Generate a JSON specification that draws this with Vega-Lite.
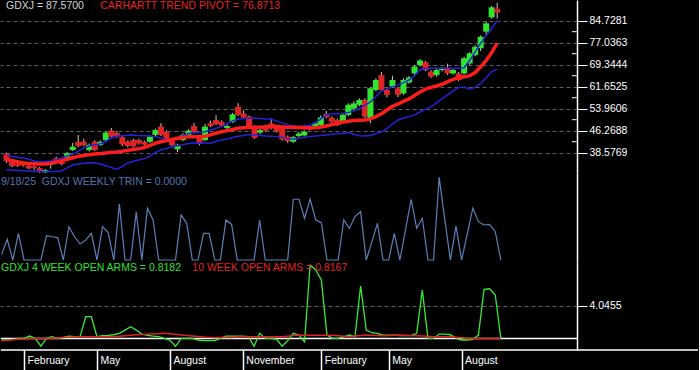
{
"$schema": "https://vega.github.io/schema/vega-lite/v6.json",
"background": "black",
"padding": 0,
"spacing": 0,
"bounds": "flush",
"config": {"view": {"stroke": null}, "font": "Liberation Sans", "axis": {"labelFont": "Liberation Sans"}},
"datasets": {"w": [
{"d":"2024-01-05","o":38.2,"h":38.6,"l":35.0,"c":35.6,"p":36.2,"u":37.7,"lo":32.6,"t":0.2,"a4":0.66,"a10":0.59},
{"d":"2024-01-12","o":35.6,"h":35.9,"l":33.5,"c":33.9,"p":35.8,"u":37.3,"lo":32.5,"t":0.74,"a4":0.66,"a10":0.64},
{"d":"2024-01-19","o":34.8,"h":35.3,"l":33.6,"c":34.0,"p":35.4,"u":37.0,"lo":32.4,"t":0,"a4":0.72,"a10":0.69},
{"d":"2024-01-26","o":34.6,"h":35.0,"l":33.7,"c":34.1,"p":35.0,"u":36.7,"lo":32.3,"t":0.95,"a4":0.82,"a10":0.73},
{"d":"2024-02-02","o":34.0,"h":34.4,"l":32.8,"c":33.1,"p":34.8,"u":36.3,"lo":32.2,"t":0,"a4":0.82,"a10":0.76},
{"d":"2024-02-09","o":33.8,"h":34.2,"l":32.6,"c":33.2,"p":34.7,"u":35.7,"lo":32.1,"t":0,"a4":1.05,"a10":0.8},
{"d":"2024-02-16","o":33.2,"h":33.6,"l":31.5,"c":31.9,"p":34.6,"u":35.4,"lo":32.0,"t":0,"a4":0.82,"a10":0.82},
{"d":"2024-02-23","o":31.7,"h":32.9,"l":31.2,"c":32.5,"p":34.6,"u":35.5,"lo":32.0,"t":0,"a4":0.05,"a10":0.82},
{"d":"2024-03-01","o":34.3,"h":35.5,"l":33.0,"c":35.1,"p":34.9,"u":35.7,"lo":32.0,"t":0.87,"a4":0.82,"a10":0.82},
{"d":"2024-03-08","o":36.6,"h":37.2,"l":34.8,"c":35.3,"p":35.3,"u":36.0,"lo":32.0,"t":0.83,"a4":0.99,"a10":0.84},
{"d":"2024-03-15","o":36.0,"h":36.6,"l":34.2,"c":34.6,"p":35.8,"u":36.7,"lo":32.2,"t":0.8,"a4":0.82,"a10":0.87},
{"d":"2024-03-22","o":36.6,"h":38.8,"l":36.2,"c":38.4,"p":36.3,"u":37.4,"lo":33.3,"t":0,"a4":0.92,"a10":0.9},
{"d":"2024-03-29","o":39.5,"h":42.0,"l":39.2,"c":40.7,"p":36.8,"u":38.0,"lo":34.3,"t":1.19,"a4":1.05,"a10":0.93},
{"d":"2024-04-05","o":42.4,"h":44.8,"l":40.5,"c":40.9,"p":37.3,"u":39.1,"lo":34.6,"t":0.83,"a4":0.99,"a10":0.95},
{"d":"2024-04-12","o":42.4,"h":43.5,"l":40.8,"c":41.2,"p":37.6,"u":40.2,"lo":34.9,"t":0.57,"a4":0.99,"a10":0.98},
{"d":"2024-04-19","o":39.5,"h":41.8,"l":39.0,"c":41.3,"p":37.9,"u":40.9,"lo":35.1,"t":0.71,"a4":2.96,"a10":0.99},
{"d":"2024-04-26","o":42.4,"h":42.9,"l":39.1,"c":39.5,"p":38.1,"u":41.3,"lo":35.0,"t":0.95,"a4":2.96,"a10":0.99},
{"d":"2024-05-03","o":41.3,"h":42.9,"l":40.9,"c":42.4,"p":38.3,"u":41.7,"lo":34.6,"t":0,"a4":0.99,"a10":0.99},
{"d":"2024-05-10","o":43.0,"h":46.0,"l":42.6,"c":45.6,"p":38.5,"u":42.5,"lo":34.0,"t":1.19,"a4":1.09,"a10":0.99},
{"d":"2024-05-17","o":46.3,"h":47.2,"l":43.8,"c":44.2,"p":38.7,"u":43.7,"lo":33.4,"t":0.98,"a4":1.12,"a10":0.99},
{"d":"2024-05-24","o":45.5,"h":46.2,"l":43.8,"c":44.2,"p":38.8,"u":44.3,"lo":32.7,"t":0,"a4":1.18,"a10":0.99},
{"d":"2024-05-31","o":44.0,"h":44.6,"l":40.9,"c":41.5,"p":39.1,"u":44.5,"lo":33.8,"t":2.0,"a4":1.32,"a10":1.03},
{"d":"2024-06-07","o":42.4,"h":42.9,"l":40.4,"c":40.9,"p":39.4,"u":44.7,"lo":35.0,"t":0,"a4":1.64,"a10":1.08},
{"d":"2024-06-14","o":43.0,"h":43.4,"l":40.4,"c":40.8,"p":39.7,"u":44.8,"lo":35.6,"t":0,"a4":1.97,"a10":1.14},
{"d":"2024-06-21","o":43.0,"h":43.5,"l":41.4,"c":41.8,"p":40.0,"u":44.6,"lo":36.0,"t":1.71,"a4":1.64,"a10":1.17},
{"d":"2024-06-28","o":42.4,"h":42.8,"l":41.0,"c":41.4,"p":40.4,"u":44.5,"lo":36.5,"t":0,"a4":1.25,"a10":1.2},
{"d":"2024-07-05","o":42.4,"h":44.6,"l":42.0,"c":44.2,"p":41.1,"u":44.4,"lo":37.4,"t":1.85,"a4":1.12,"a10":1.24},
{"d":"2024-07-12","o":44.8,"h":47.0,"l":44.4,"c":46.5,"p":41.9,"u":44.2,"lo":38.7,"t":1.43,"a4":1.05,"a10":1.27},
{"d":"2024-07-19","o":47.7,"h":48.9,"l":44.4,"c":44.8,"p":42.4,"u":43.7,"lo":39.5,"t":0,"a4":0.99,"a10":1.29},
{"d":"2024-07-26","o":45.9,"h":46.4,"l":42.6,"c":43.0,"p":42.8,"u":43.3,"lo":40.1,"t":0,"a4":0.82,"a10":1.32},
{"d":"2024-08-02","o":43.0,"h":43.4,"l":40.8,"c":41.2,"p":43.2,"u":43.0,"lo":40.6,"t":0,"a4":0.66,"a10":1.28},
{"d":"2024-08-09","o":39.8,"h":41.7,"l":38.8,"c":41.3,"p":43.6,"u":43.7,"lo":41.0,"t":0,"a4":0.02,"a10":1.22},
{"d":"2024-08-16","o":43.0,"h":45.4,"l":42.6,"c":44.8,"p":43.9,"u":44.5,"lo":41.4,"t":1.61,"a4":0.82,"a10":1.16},
{"d":"2024-08-23","o":44.8,"h":46.8,"l":44.4,"c":46.3,"p":44.2,"u":45.3,"lo":41.8,"t":1.31,"a4":0.82,"a10":1.11},
{"d":"2024-08-30","o":47.9,"h":49.0,"l":45.5,"c":45.9,"p":44.2,"u":45.5,"lo":42.0,"t":0,"a4":0.82,"a10":1.05},
{"d":"2024-09-06","o":44.2,"h":44.6,"l":41.2,"c":41.6,"p":44.2,"u":45.7,"lo":42.1,"t":0,"a4":0.66,"a10":1.0},
{"d":"2024-09-13","o":43.0,"h":48.6,"l":42.6,"c":47.7,"p":44.3,"u":45.9,"lo":42.0,"t":0.95,"a4":0.59,"a10":0.96},
{"d":"2024-09-20","o":48.9,"h":49.8,"l":47.5,"c":47.9,"p":44.8,"u":46.5,"lo":41.9,"t":0.95,"a4":0.59,"a10":0.92},
{"d":"2024-09-27","o":50.0,"h":51.7,"l":48.2,"c":48.6,"p":45.4,"u":47.1,"lo":42.6,"t":0,"a4":0.59,"a10":0.89},
{"d":"2024-10-04","o":49.4,"h":49.9,"l":47.6,"c":48.0,"p":45.9,"u":47.7,"lo":43.0,"t":0,"a4":0.82,"a10":0.9},
{"d":"2024-10-11","o":47.2,"h":48.4,"l":46.8,"c":47.9,"p":46.3,"u":48.7,"lo":43.4,"t":1.43,"a4":1.05,"a10":0.91},
{"d":"2024-10-18","o":49.4,"h":52.5,"l":49.0,"c":52.0,"p":46.7,"u":49.7,"lo":43.9,"t":1.27,"a4":1.05,"a10":0.92},
{"d":"2024-10-25","o":54.7,"h":55.9,"l":51.4,"c":51.8,"p":47.1,"u":50.3,"lo":44.3,"t":0,"a4":1.05,"a10":0.95},
{"d":"2024-11-01","o":52.3,"h":53.4,"l":50.5,"c":50.9,"p":47.3,"u":50.5,"lo":44.6,"t":0,"a4":1.05,"a10":0.97},
{"d":"2024-11-08","o":51.2,"h":51.6,"l":47.5,"c":47.9,"p":47.4,"u":50.6,"lo":44.9,"t":0,"a4":0.99,"a10":0.99},
{"d":"2024-11-15","o":47.7,"h":48.1,"l":43.4,"c":43.8,"p":47.5,"u":50.6,"lo":44.8,"t":0,"a4":0.03,"a10":0.99},
{"d":"2024-11-22","o":45.6,"h":47.0,"l":45.0,"c":46.5,"p":47.5,"u":50.5,"lo":44.6,"t":1.43,"a4":1.32,"a10":0.99},
{"d":"2024-11-29","o":47.9,"h":48.3,"l":45.9,"c":46.3,"p":47.6,"u":50.4,"lo":44.4,"t":0,"a4":0.82,"a10":0.99},
{"d":"2024-12-06","o":48.8,"h":50.6,"l":46.7,"c":47.1,"p":47.7,"u":50.3,"lo":44.3,"t":0,"a4":0.82,"a10":0.99},
{"d":"2024-12-13","o":47.9,"h":48.3,"l":45.6,"c":46.0,"p":47.7,"u":49.7,"lo":44.2,"t":0,"a4":0.76,"a10":0.99},
{"d":"2024-12-20","o":47.1,"h":47.5,"l":42.8,"c":43.2,"p":47.6,"u":49.0,"lo":44.0,"t":0,"a4":0.05,"a10":0.99},
{"d":"2024-12-27","o":44.2,"h":44.6,"l":42.0,"c":42.6,"p":47.5,"u":48.4,"lo":43.5,"t":0,"a4":0.6,"a10":1.04},
{"d":"2025-01-03","o":42.4,"h":44.4,"l":42.0,"c":44.0,"p":47.5,"u":47.9,"lo":43.3,"t":2.17,"a4":1.32,"a10":1.1},
{"d":"2025-01-10","o":44.4,"h":45.8,"l":44.0,"c":45.3,"p":47.4,"u":47.7,"lo":43.6,"t":2.17,"a4":1.15,"a10":1.15},
{"d":"2025-01-17","o":44.6,"h":46.4,"l":44.2,"c":45.9,"p":47.3,"u":47.9,"lo":44.0,"t":1.49,"a4":0.49,"a10":1.14},
{"d":"2025-01-24","o":46.8,"h":48.2,"l":46.4,"c":47.7,"p":47.2,"u":48.2,"lo":44.2,"t":2.17,"a4":8.06,"a10":1.13},
{"d":"2025-01-31","o":47.8,"h":49.4,"l":47.4,"c":48.9,"p":47.3,"u":49.0,"lo":44.4,"t":1.43,"a4":7.57,"a10":1.12},
{"d":"2025-02-07","o":48.3,"h":51.6,"l":47.9,"c":50.9,"p":47.6,"u":50.4,"lo":44.6,"t":1.33,"a4":6.58,"a10":1.12},
{"d":"2025-02-14","o":52.1,"h":53.2,"l":50.6,"c":51.0,"p":47.9,"u":51.8,"lo":44.8,"t":0,"a4":1.15,"a10":1.12},
{"d":"2025-02-21","o":50.8,"h":51.3,"l":49.0,"c":49.4,"p":48.4,"u":52.2,"lo":45.0,"t":0,"a4":0.82,"a10":1.12},
{"d":"2025-02-28","o":50.0,"h":50.5,"l":47.9,"c":48.3,"p":48.8,"u":52.2,"lo":45.2,"t":0,"a4":0.82,"a10":1.08},
{"d":"2025-03-07","o":49.4,"h":52.3,"l":49.0,"c":51.8,"p":49.3,"u":52.3,"lo":45.4,"t":1.43,"a4":0.99,"a10":1.03},
{"d":"2025-03-14","o":51.8,"h":55.8,"l":51.4,"c":55.3,"p":49.6,"u":52.6,"lo":45.6,"t":1.13,"a4":1.15,"a10":0.99},
{"d":"2025-03-21","o":54.0,"h":56.6,"l":53.4,"c":55.8,"p":49.8,"u":53.2,"lo":45.0,"t":1.55,"a4":1.0,"a10":1.05},
{"d":"2025-03-28","o":55.3,"h":57.6,"l":54.8,"c":57.0,"p":49.9,"u":54.0,"lo":44.5,"t":1.73,"a4":5.99,"a10":1.1},
{"d":"2025-04-04","o":57.0,"h":57.6,"l":50.6,"c":51.2,"p":50.0,"u":55.2,"lo":44.4,"t":0,"a4":1.64,"a10":1.15},
{"d":"2025-04-11","o":50.6,"h":61.6,"l":48.9,"c":61.1,"p":50.4,"u":56.3,"lo":44.6,"t":0.65,"a4":1.38,"a10":1.13},
{"d":"2025-04-18","o":60.5,"h":64.5,"l":60.0,"c":64.0,"p":51.2,"u":58.2,"lo":45.3,"t":1.31,"a4":1.32,"a10":1.11},
{"d":"2025-04-25","o":65.7,"h":66.8,"l":60.0,"c":60.5,"p":52.2,"u":60.2,"lo":45.8,"t":0,"a4":1.15,"a10":1.09},
{"d":"2025-05-02","o":60.5,"h":61.0,"l":57.9,"c":58.8,"p":53.5,"u":60.8,"lo":47.0,"t":0,"a4":1.15,"a10":1.11},
{"d":"2025-05-09","o":61.7,"h":65.5,"l":61.2,"c":64.0,"p":54.8,"u":61.6,"lo":48.6,"t":0.95,"a4":1.15,"a10":1.13},
{"d":"2025-05-16","o":61.1,"h":61.6,"l":58.0,"c":58.8,"p":55.6,"u":62.2,"lo":50.0,"t":0,"a4":1.09,"a10":1.15},
{"d":"2025-05-23","o":59.3,"h":64.6,"l":58.8,"c":64.0,"p":56.5,"u":63.1,"lo":50.6,"t":1.08,"a4":1.09,"a10":1.13},
{"d":"2025-05-30","o":63.1,"h":65.4,"l":62.7,"c":64.9,"p":57.4,"u":64.0,"lo":51.2,"t":2.17,"a4":1.09,"a10":1.11},
{"d":"2025-06-06","o":66.3,"h":69.2,"l":65.9,"c":68.7,"p":58.6,"u":65.5,"lo":51.8,"t":1.13,"a4":1.32,"a10":1.09},
{"d":"2025-06-13","o":69.2,"h":71.3,"l":68.8,"c":70.8,"p":59.8,"u":67.6,"lo":52.8,"t":1.49,"a4":5.59,"a10":1.06},
{"d":"2025-06-20","o":70.2,"h":70.7,"l":67.1,"c":67.5,"p":60.8,"u":68.1,"lo":53.8,"t":0,"a4":0.82,"a10":1.02},
{"d":"2025-06-27","o":66.9,"h":67.4,"l":64.7,"c":65.2,"p":61.4,"u":68.1,"lo":54.7,"t":0,"a4":0.82,"a10":0.99},
{"d":"2025-07-04","o":65.7,"h":68.0,"l":65.2,"c":67.5,"p":61.9,"u":68.1,"lo":56.0,"t":2.95,"a4":1.25,"a10":0.99},
{"d":"2025-07-11","o":67.5,"h":68.5,"l":67.0,"c":68.0,"p":62.5,"u":68.1,"lo":57.4,"t":1.45,"a4":1.25,"a10":0.99},
{"d":"2025-07-18","o":68.3,"h":69.7,"l":65.8,"c":66.3,"p":63.4,"u":68.1,"lo":58.8,"t":0,"a4":1.18,"a10":0.99},
{"d":"2025-07-25","o":66.3,"h":68.0,"l":65.9,"c":67.5,"p":64.2,"u":68.1,"lo":60.2,"t":1.21,"a4":0.82,"a10":0.93},
{"d":"2025-08-01","o":66.3,"h":66.8,"l":63.6,"c":64.0,"p":64.8,"u":68.1,"lo":61.4,"t":0,"a4":0.66,"a10":0.88},
{"d":"2025-08-08","o":66.3,"h":72.1,"l":65.9,"c":71.6,"p":65.1,"u":68.3,"lo":61.5,"t":0.92,"a4":0.66,"a10":0.82},
{"d":"2025-08-15","o":69.8,"h":73.8,"l":69.3,"c":73.3,"p":65.5,"u":70.8,"lo":60.8,"t":1.85,"a4":0.72,"a10":0.82},
{"d":"2025-08-22","o":72.7,"h":76.1,"l":72.3,"c":75.6,"p":66.6,"u":73.8,"lo":61.4,"t":1.37,"a4":1.15,"a10":0.82},
{"d":"2025-08-29","o":75.1,"h":79.6,"l":74.1,"c":79.1,"p":68.6,"u":76.9,"lo":62.8,"t":1.25,"a4":5.66,"a10":0.82},
{"d":"2025-09-05","o":80.9,"h":84.4,"l":79.8,"c":83.8,"p":70.8,"u":79.5,"lo":64.8,"t":1.27,"a4":5.72,"a10":0.82},
{"d":"2025-09-12","o":85.9,"h":89.9,"l":85.4,"c":89.4,"p":73.6,"u":82.0,"lo":66.9,"t":1.01,"a4":5.1,"a10":0.82},
{"d":"2025-09-19","o":88.9,"h":91.0,"l":85.5,"c":87.57,"p":76.87,"u":84.8,"lo":67.8,"t":0,"a4":0.8182,"a10":0.8167}
]},
"vconcat": [
{
 "width": 577, "height": 173,
 "data": {"name": "w"},
 "layer": [
  {"mark": {"type": "rule", "color": "#c8c8c8", "strokeWidth": 1, "clip": true},
   "encoding": {
    "x": {"field": "d", "type": "temporal", "axis": null, "scale": {"type": "utc", "domain": [{"year":2024,"month":1,"date":3,"utc":true},{"year":2025,"month":12,"date":23,"utc":true}]}},
    "y": {"field": "l", "type": "quantitative", "scale": {"domain": [31.483, 91.965], "nice": false, "zero": false},
      "axis": {"orient": "right", "title": null,
        "values": [38.5769, 46.2688, 53.9606, 61.6525, 69.3444, 77.0363, 84.7281], "tickCount": 20,
        "format": ".4f", "tickSize": 10,
        "grid": true, "gridColor": "#5e5e5e", "gridDash": [4, 3], "gridWidth": 1,
        "domainColor": "white", "domainWidth": 1.5, "tickColor": "white", "tickWidth": 1,
        "labelColor": "white", "labelFontSize": 10.5, "labelPadding": 2, "labelOverlap": false, "labelFlush": false, "labelBound": false}},
    "y2": {"field": "h"}}},
  {"mark": {"type": "bar", "size": 6, "clip": true},
   "encoding": {
    "x": {"field": "d", "type": "temporal", "axis": null, "scale": {"type": "utc", "domain": [{"year":2024,"month":1,"date":3,"utc":true},{"year":2025,"month":12,"date":23,"utc":true}]}},
    "y": {"field": "o", "type": "quantitative", "scale": {"domain": [31.483, 91.965], "nice": false, "zero": false}},
    "y2": {"field": "c"},
    "color": {"condition": {"test": "datum.c >= datum.o", "value": "#2ee62e"}, "value": "#e02424"}}},
  {"mark": {"type": "line", "color": "#2323d8", "strokeWidth": 1.5, "clip": true},
   "encoding": {
    "x": {"field": "d", "type": "temporal", "axis": null, "scale": {"type": "utc", "domain": [{"year":2024,"month":1,"date":3,"utc":true},{"year":2025,"month":12,"date":23,"utc":true}]}},
    "y": {"field": "u", "type": "quantitative", "scale": {"domain": [31.483, 91.965], "nice": false, "zero": false}}}},
  {"mark": {"type": "line", "color": "#2323d8", "strokeWidth": 1.5, "clip": true},
   "encoding": {
    "x": {"field": "d", "type": "temporal", "axis": null, "scale": {"type": "utc", "domain": [{"year":2024,"month":1,"date":3,"utc":true},{"year":2025,"month":12,"date":23,"utc":true}]}},
    "y": {"field": "lo", "type": "quantitative", "scale": {"domain": [31.483, 91.965], "nice": false, "zero": false}}}},
  {"mark": {"type": "line", "color": "#ff1c1c", "strokeWidth": 3.5, "clip": true},
   "encoding": {
    "x": {"field": "d", "type": "temporal", "axis": null, "scale": {"type": "utc", "domain": [{"year":2024,"month":1,"date":3,"utc":true},{"year":2025,"month":12,"date":23,"utc":true}]}},
    "y": {"field": "p", "type": "quantitative", "scale": {"domain": [31.483, 91.965], "nice": false, "zero": false}}}},
  {"data": {"values": [{"v": 42.42285}, {"v": 50.11475}, {"v": 57.80655}, {"v": 65.49845}, {"v": 73.19035}, {"v": 80.88225}]},
   "mark": {"type": "rule", "color": "white", "strokeWidth": 1},
   "encoding": {
    "x": {"datum": {"year":2025,"month":12,"date":23,"utc":true}, "type": "temporal", "axis": null, "scale": {"type": "utc", "domain": [{"year":2024,"month":1,"date":3,"utc":true},{"year":2025,"month":12,"date":23,"utc":true}]}},
    "x2": {"datum": {"year":2025,"month":12,"date":29,"utc":true}},
    "y": {"field": "v", "type": "quantitative", "scale": {"domain": [31.483, 91.965], "nice": false, "zero": false}}}},
  {"data": {"values": [{}]},
   "mark": {"type": "text", "align": "left", "baseline": "middle", "color": "#d4d4d4", "fontSize": 10.5, "dx": 1},
   "encoding": {"x": {"datum": {"year":2024,"month":1,"date":3,"utc":true}, "type": "temporal", "axis": null, "scale": {"type": "utc", "domain": [{"year":2024,"month":1,"date":3,"utc":true},{"year":2025,"month":12,"date":23,"utc":true}]}},
     "y": {"datum": 89.7, "type": "quantitative", "scale": {"domain": [31.483, 91.965], "nice": false, "zero": false}},
     "text": {"value": "GDXJ = 87.5700"}}},
  {"data": {"values": [{}]},
   "mark": {"type": "text", "align": "left", "baseline": "middle", "color": "#e82222", "fontSize": 10.5},
   "encoding": {"x": {"datum": {"year":2024,"month":5,"date":3,"utc":true}, "type": "temporal", "axis": null, "scale": {"type": "utc", "domain": [{"year":2024,"month":1,"date":3,"utc":true},{"year":2025,"month":12,"date":23,"utc":true}]}},
     "y": {"datum": 89.7, "type": "quantitative", "scale": {"domain": [31.483, 91.965], "nice": false, "zero": false}},
     "text": {"value": "CARHARTT TREND PIVOT = 76.8713"}}}
 ]
},
{
 "width": 577, "height": 89,
 "data": {"name": "w"},
 "layer": [
  {"mark": {"type": "line", "color": "#5a80b8", "strokeWidth": 1.2, "clip": true},
   "encoding": {
    "x": {"field": "d", "type": "temporal", "axis": null, "scale": {"type": "utc", "domain": [{"year":2024,"month":1,"date":3,"utc":true},{"year":2025,"month":12,"date":23,"utc":true}]}},
    "y": {"field": "t", "type": "quantitative", "scale": {"domain": [-0.071, 3.107], "nice": false, "zero": false},
     "axis": {"orient": "right", "title": null, "ticks": false, "labels": false, "grid": false, "domainColor": "white", "domainWidth": 1.5}}}},
  {"data": {"values": [{}]},
   "mark": {"type": "text", "align": "left", "baseline": "middle", "color": "#5275ae", "fontSize": 10.5, "dx": 1},
   "encoding": {"x": {"datum": {"year":2024,"month":1,"date":3,"utc":true}, "type": "temporal", "axis": null, "scale": {"type": "utc", "domain": [{"year":2024,"month":1,"date":3,"utc":true},{"year":2025,"month":12,"date":23,"utc":true}]}},
     "y": {"datum": 2.8, "type": "quantitative", "scale": {"domain": [-0.071, 3.107], "nice": false, "zero": false}},
     "text": {"value": "9/18/25\u00a0 GDXJ WEEKLY TRIN = 0.0000"}}}
 ]
},
{
 "width": 577, "height": 88,
 "data": {"name": "w"},
 "layer": [
  {"data": {"values": [{}]},
   "mark": {"type": "rule", "color": "white", "strokeWidth": 1.5},
   "encoding": {"x": {"datum": {"year":2024,"month":1,"date":4,"utc":true}, "type": "temporal", "scale": {"type": "utc", "domain": [{"year":2024,"month":1,"date":3,"utc":true},{"year":2025,"month":12,"date":23,"utc":true}]}},
     "x2": {"datum": {"year":2025,"month":12,"date":23,"utc":true}},
     "y": {"datum": 0.8182, "type": "quantitative", "scale": {"domain": [-0.326, 8.36], "nice": false, "zero": false}}}},
  {"mark": {"type": "line", "color": "#33ec33", "strokeWidth": 1.3, "clip": true},
   "encoding": {
    "x": {"field": "d", "type": "temporal", "scale": {"type": "utc", "domain": [{"year":2024,"month":1,"date":3,"utc":true},{"year":2025,"month":12,"date":23,"utc":true}]},
      "axis": {"orient": "bottom", "title": null, "domain": false, "grid": false,
        "values": [{"year":2024,"month":2,"date":2,"utc":true},{"year":2024,"month":5,"date":3,"utc":true},{"year":2024,"month":8,"date":2,"utc":true},{"year":2024,"month":11,"date":1,"utc":true},{"year":2025,"month":2,"date":7,"utc":true},{"year":2025,"month":5,"date":2,"utc":true},{"year":2025,"month":8,"date":1,"utc":true}], "tickCount": 20,
        "format": "%B", "tickSize": 20, "tickColor": "white", "tickWidth": 1.5,
        "labelColor": "white", "labelFontSize": 10.5, "labelAlign": "left", "labelBaseline": "middle",
        "labelPadding": -10, "labelOffset": 3, "labelOverlap": false, "labelFlush": false, "labelBound": false}},
    "y": {"field": "a4", "type": "quantitative", "scale": {"domain": [-0.326, 8.36], "nice": false, "zero": false},
      "axis": {"orient": "right", "title": null, "values": [4.0455], "format": ".4f",
        "tickSize": 10, "tickColor": "white", "tickWidth": 1,
        "grid": true, "gridColor": "#5e5e5e", "gridDash": [4, 3],
        "domainColor": "white", "domainWidth": 1.5,
        "labelColor": "white", "labelFontSize": 10.5, "labelPadding": 2, "labelOverlap": false, "labelFlush": false}}}},
  {"mark": {"type": "line", "color": "#e02222", "strokeWidth": 1.5, "clip": true},
   "encoding": {
    "x": {"field": "d", "type": "temporal", "scale": {"type": "utc", "domain": [{"year":2024,"month":1,"date":3,"utc":true},{"year":2025,"month":12,"date":23,"utc":true}]}},
    "y": {"field": "a10", "type": "quantitative", "scale": {"domain": [-0.326, 8.36], "nice": false, "zero": false}}}},
  {"data": {"values": [{}]},
   "mark": {"type": "rule", "color": "white", "strokeWidth": 1.5},
   "encoding": {"x": {"datum": {"year":2024,"month":1,"date":4,"utc":true}, "type": "temporal", "scale": {"type": "utc", "domain": [{"year":2024,"month":1,"date":3,"utc":true},{"year":2025,"month":12,"date":23,"utc":true}]}},
     "x2": {"datum": {"year":2026,"month":5,"date":23,"utc":true}},
     "y": {"datum": -0.326, "type": "quantitative", "scale": {"domain": [-0.326, 8.36], "nice": false, "zero": false}}}},
  {"data": {"values": [{}]},
   "mark": {"type": "text", "align": "left", "baseline": "middle", "color": "#30e030", "fontSize": 10.5, "dx": 1},
   "encoding": {"x": {"datum": {"year":2024,"month":1,"date":3,"utc":true}, "type": "temporal", "scale": {"type": "utc", "domain": [{"year":2024,"month":1,"date":3,"utc":true},{"year":2025,"month":12,"date":23,"utc":true}]}},
     "y": {"datum": 7.74, "type": "quantitative", "scale": {"domain": [-0.326, 8.36], "nice": false, "zero": false}},
     "text": {"value": "GDXJ 4 WEEK OPEN ARMS = 0.8182"}}},
  {"data": {"values": [{}]},
   "mark": {"type": "text", "align": "left", "baseline": "middle", "color": "#e02222", "fontSize": 10.5},
   "encoding": {"x": {"datum": {"year":2024,"month":8,"date":30,"utc":true}, "type": "temporal", "scale": {"type": "utc", "domain": [{"year":2024,"month":1,"date":3,"utc":true},{"year":2025,"month":12,"date":23,"utc":true}]}},
     "y": {"datum": 7.74, "type": "quantitative", "scale": {"domain": [-0.326, 8.36], "nice": false, "zero": false}},
     "text": {"value": "10 WEEK OPEN ARMS = 0.8167"}}}
 ]
}
]
}
